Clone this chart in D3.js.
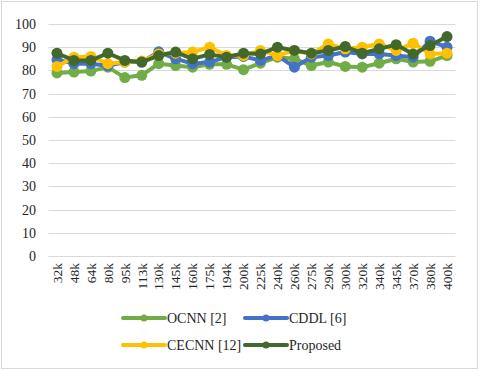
<!DOCTYPE html>
<meta charset="utf-8">
<head>
<style>
body { margin: 0; background: #fff; }
svg text { font-family: "Liberation Serif", "Times New Roman", serif; fill: #262626; }
.grid line { stroke: #d9d9d9; stroke-width: 1; }
.series path { fill: none; stroke-width: 4; stroke-linejoin: round; }
</style>
</head>
<body>
<svg width="480" height="371"></svg>
<script src="https://cdn.jsdelivr.net/npm/d3@7"></script>
<script>

var categories = ["32k","48k","64k","80k","95k","113k","130k","145k","160k","175k","194k","200k",
                  "225k","240k","260k","275k","290k","300k","320k","340k","345k","370k","380k","400k"];

var ocnn     = [78.9,79.3,79.7,81.4,76.9,77.9,82.9,82.1,81.4,82.6,82.6,80.3,83.1,85.7,85.0,82.1,83.6,81.7,81.4,83.1,85.0,83.6,83.9,86.4];
var cddl     = [84.6,82.9,82.9,82.0,83.6,83.6,88.0,85.0,82.9,83.6,85.7,86.0,84.3,86.4,81.4,85.7,86.4,87.9,87.1,87.1,86.4,85.7,92.6,90.0];
var cecnn    = [81.7,85.7,86.0,82.9,83.6,84.0,87.1,87.4,87.9,90.0,86.4,86.4,88.6,86.4,88.6,87.1,91.4,89.3,90.0,91.4,88.6,91.7,87.1,87.4];
var proposed = [87.4,84.3,84.3,87.4,84.3,83.6,86.4,87.9,85.0,86.9,85.7,87.4,87.1,90.0,88.6,87.4,88.6,90.3,87.4,89.3,91.1,87.1,90.7,94.6];

var yTicks = [0,10,20,30,40,50,60,70,80,90,100];

var seriesNames = ["OCNN [2]", "CDDL [6]", "CECNN [12]", "Proposed"];
var seriesColors = ["#70ad47", "#4472c4", "#ffc000", "#43682b"];
var seriesValues = [ocnn, cddl, cecnn, proposed];

var svg = d3.select("svg");

svg.append("rect")
    .attr("x", 1.5).attr("y", 1.5)
    .attr("width", 476).attr("height", 367)
    .attr("fill", "#fff")
    .attr("stroke", "#d9d9d9");

var x = d3.scaleBand().domain(categories).range([48.5, 455.5]);
var y = d3.scaleLinear().domain([0, 100]).range([256, 24]);

// gridlines
svg.append("g").attr("class", "grid")
  .selectAll("line").data(yTicks)
  .enter().append("line")
    .attr("x1", x.range()[0]).attr("x2", x.range()[1])
    .attr("y1", function(d) { return Math.round(y(d)) + 0.5; })
    .attr("y2", function(d) { return Math.round(y(d)) + 0.5; });

// y labels
svg.append("g")
  .selectAll("text").data(yTicks)
  .enter().append("text")
    .attr("x", 36)
    .attr("y", function(d) { return y(d); })
    .attr("dy", "0.35em")
    .attr("text-anchor", "end")
    .style("font-size", "14px")
    .text(function(d) { return d; });

// x labels
svg.append("g")
  .selectAll("text").data(categories)
  .enter().append("text")
    .attr("transform", function(d) { return "translate(" + (x(d) + x.bandwidth() / 2) + ",263) rotate(-90)"; })
    .attr("dy", "0.35em")
    .attr("text-anchor", "end")
    .style("font-size", "13.5px")
    .text(function(d) { return d; });

var line = d3.line()
    .x(function(d, i) { return x(categories[i]) + x.bandwidth() / 2; })
    .y(function(d) { return y(d); });

var series = svg.selectAll(".series")
    .data(seriesValues)
  .enter().append("g")
    .attr("class", "series");

series.append("path")
    .attr("stroke", function(d, i) { return seriesColors[i]; })
    .attr("d", line);

series.each(function(vals, si) {
  d3.select(this).selectAll("circle")
      .data(vals)
    .enter().append("circle")
      .attr("cx", function(d, i) { return x(categories[i]) + x.bandwidth() / 2; })
      .attr("cy", function(d) { return y(d); })
      .attr("r", 5.5)
      .attr("fill", seriesColors[si]);
});

// legend
var legendPos = [[123, 318], [245, 318], [123, 345], [245, 345]];
var legend = svg.selectAll(".legend")
    .data(seriesNames)
  .enter().append("g")
    .attr("transform", function(d, i) { return "translate(" + legendPos[i][0] + "," + legendPos[i][1] + ")"; });

legend.append("line")
    .attr("x1", 0).attr("x2", 42)
    .attr("stroke", function(d, i) { return seriesColors[i]; })
    .attr("stroke-width", 4)
    .attr("stroke-linecap", "round");

legend.append("circle")
    .attr("cx", 21).attr("r", 3.5)
    .attr("fill", function(d, i) { return seriesColors[i]; });

legend.append("text")
    .attr("x", 44)
    .attr("dy", "0.35em")
    .style("font-size", "14px")
    .text(function(d) { return d; });

</script>
</body>
